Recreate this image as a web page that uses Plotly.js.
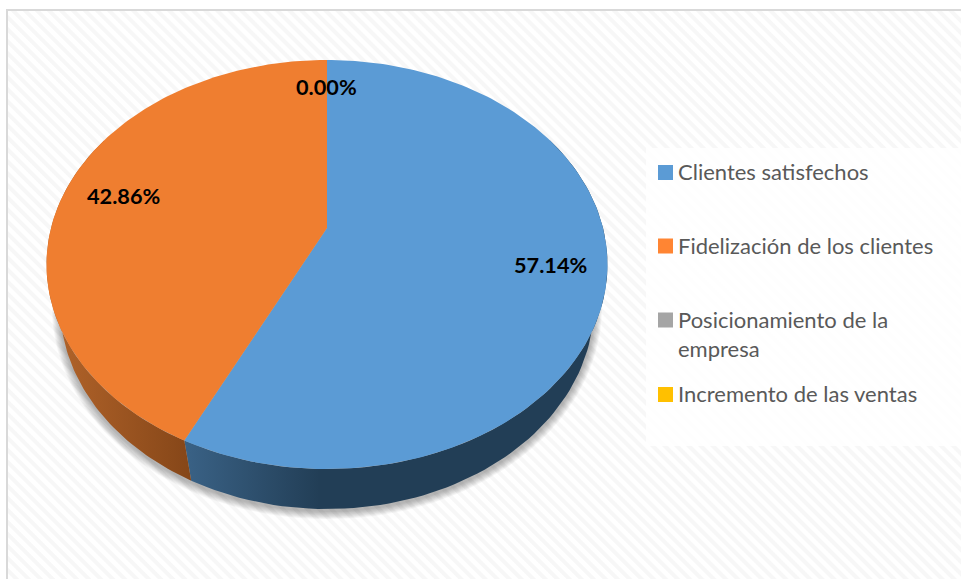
<!DOCTYPE html>
<html>
<head>
<meta charset="utf-8">
<script src="https://cdn.plot.ly/plotly-3.0.1.min.js"></script>
<style>
html,body{margin:0;padding:0;background:#fff;overflow:hidden}
#frame{position:absolute;left:6px;top:9px;width:955px;height:570px;box-sizing:border-box;border-left:2px solid #d9d9d9;border-top:2px solid #d9d9d9;
background:repeating-linear-gradient(45deg,#ffffff 0,#ffffff 3.5px,#f7f7f7 4.5px,#f7f7f7 7.5px,#ffffff 8.5px)}
#chart{position:absolute;left:0;top:0;width:961px;height:579px}
</style>
</head>
<body>
<div id="frame"></div>
<div id="chart"></div>
<script>
// Data
const categories = ['Clientes satisfechos','Fidelización de los clientes','Posicionamiento de la<br>empresa','Incremento de las ventas'];
const values = [57.14, 42.86, 0, 0];
const colors = ['#5B9BD5','#EF7E30','#A5A5A5','#FFC000'];
const legendSwatch = ['#5B9BD5','#FF8533','#A5A5A5','#FFC000'];
const wallScales = [
  [[0,'#3A6286'],[0.32,'#223E56'],[1,'#223E56']],
  [[0,'#B4652B'],[1,'#854618']]
];

// Pixel-aligned axes; the perspective disc is derived from the values
const cx=327, apexY=228, persp=-0.1785, yGain=157.3, xGain=276;
const topCy=264.5, topRy=204.5, topRx=280.5;
const lowCy=305, lowRy=204, lowRx=267;
const DEG=Math.PI/180;
function topPt(pct){
  const t=pct*3.6*DEG,u=Math.sin(t),v=-Math.cos(t),d=1+persp*v;
  return [cx+xGain*u/d,(yGain*v+apexY)/d];
}
function lowPt(pct){
  const p=topPt(pct);
  return [cx+(p[0]-cx)*lowRx/topRx, lowCy+(p[1]-topCy)*lowRy/topRy];
}
function arc(fn,a,b,n){
  const o=[];
  for(let i=0;i<=n;i++) o.push(fn(a+(b-a)*i/n));
  return o;
}
function polyTrace(pts,extra){
  return Object.assign({type:'scatter',mode:'lines',x:pts.map(p=>p[0]),y:pts.map(p=>p[1]),
    fill:'toself',line:{width:0},hoverinfo:'skip',showlegend:false},extra);
}
const traces=[];
// soft shadow under the disc
for(let i=9;i>=1;i--){
  const pts=arc(p=>{const t=p*3.6*DEG;return [cx+(lowRx+i*0.9)*Math.sin(t),lowCy+2+(lowRy+i*0.9)*Math.cos(t)];},0,100,180);
  traces.push(polyTrace(pts,{fillcolor:'rgba(0,0,0,0.035)'}));
}
// side wall + top per slice
let cum=0;
const walls=[],tops=[];
values.forEach((val,i)=>{
  if(val<=0){return;}
  const a=cum,b=cum+val;
  const wa=Math.max(a,17), wb=Math.min(b,83);
  const outer=arc(lowPt,wa,wb,90), inner=arc(topPt,wb,wa,90);
  walls.push(polyTrace(outer.concat(inner),{fillcolor:wallScales[i][0][1],
    fillgradient:{type:'horizontal',colorscale:wallScales[i]}}));
  const rim=arc(topPt,a,b,180);
  tops.push(polyTrace([[cx,apexY]].concat(rim),{fillcolor:colors[i],name:categories[i]}));
  cum=b;
});
traces.push(...walls,...tops);

// legend markers
const legendX=[665.5,665.5,665.5,665.5];
const legendY=[172.5,246,320,394.5];
traces.push({type:'scatter',mode:'markers',x:legendX,y:legendY,hoverinfo:'skip',showlegend:false,
  marker:{symbol:'square',size:15,color:legendSwatch,line:{width:0}}});

const annotations=[];
const labelPos=[[550,265],[123,196],[326,86.5]];
[values[0],values[1],values[2]].forEach((v,i)=>{
  annotations.push({x:labelPos[i][0],y:labelPos[i][1],xref:'x',yref:'y',text:'<b>'+v.toFixed(2)+'%</b>',showarrow:false,
    font:{family:'Lato, sans-serif',size:21.7,color:'#000000'}});
});
const legendTextY=[171.5,245.5,333.5,393.5];
categories.forEach((c,i)=>{
  annotations.push({x:676,y:legendTextY[i],xref:'x',yref:'y',xanchor:'left',yanchor:'middle',align:'left',text:c,showarrow:false,
    font:{family:'Lato, sans-serif',size:22,color:'#595959'}});
});

const layout={width:961,height:579,margin:{l:0,r:0,t:0,b:0},paper_bgcolor:'rgba(0,0,0,0)',plot_bgcolor:'rgba(0,0,0,0)',showlegend:false,
  xaxis:{range:[0,961],visible:false,fixedrange:true},
  yaxis:{range:[579,0],visible:false,fixedrange:true},
  shapes:[{type:'rect',xref:'x',yref:'y',x0:646,x1:961,y0:148,y1:446,line:{width:0},fillcolor:'rgba(255,255,255,0.82)',layer:'below'}],
  annotations};
Plotly.newPlot('chart',traces,layout,{displayModeBar:false,staticPlot:true});
</script>
</body>
</html>
